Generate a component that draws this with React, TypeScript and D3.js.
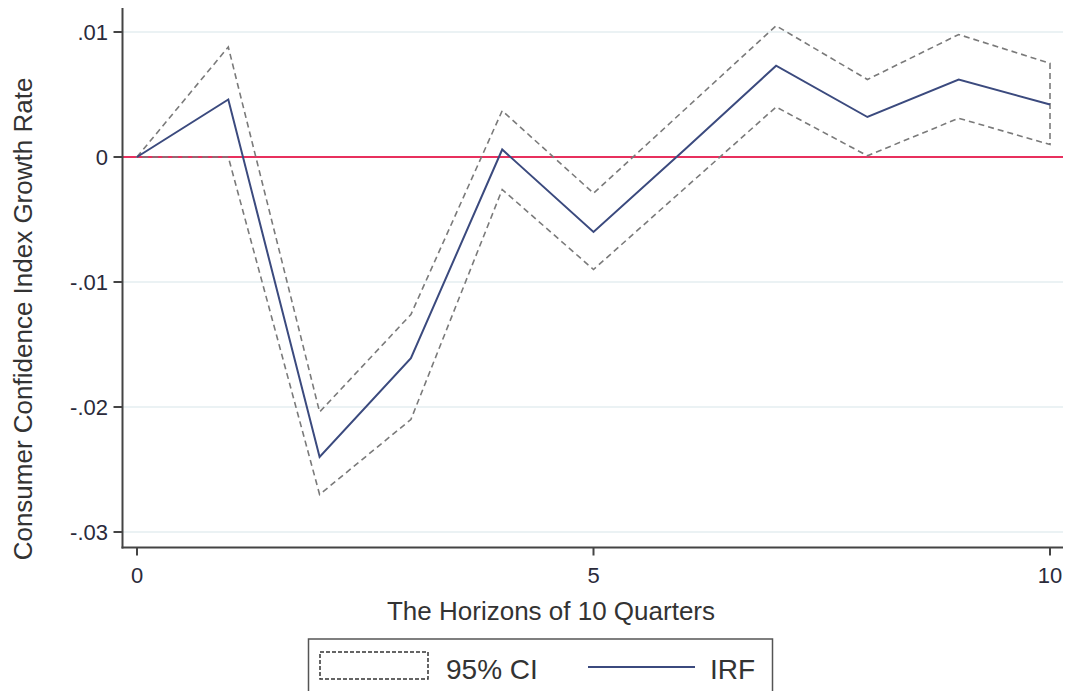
import React from "react";
import * as d3 from "d3";

const horizons = [0, 1, 2, 3, 4, 5, 6, 7, 8, 9, 10];
const irf = [0, 0.0046, -0.024, -0.0161, 0.0006, -0.006, 0.0006, 0.0073, 0.0032, 0.0062, 0.0042];
const upper = [0, 0.0088, -0.0204, -0.0126, 0.0037, -0.0029, 0.0038, 0.0105, 0.0062, 0.0098, 0.0075];
const lower = [0, 0, -0.027, -0.021, -0.0026, -0.009, -0.0025, 0.004, 0.0001, 0.0031, 0.001];
const yTicks = [0.01, 0, -0.01, -0.02, -0.03];
const yTickLabels = [".01", "0", "-.01", "-.02", "-.03"];
const xTicks = [0, 5, 10];
const xTickLabels = ["0", "5", "10"];
const legendLabels = ["95% CI", "IRF"];

const W = 1068;
const H = 691;
const FONT = "Arial, 'Liberation Sans', Helvetica, sans-serif";

export default function App() {
  const x = d3.scaleLinear().domain([0, 10]).range([137, 1050]);
  const y = d3.scaleLinear().domain([-0.03, 0.01]).range([532, 32]);
  const axisX = 122.5;
  const axisY = 547.5;
  const right = 1063;

  const line = d3
    .line<number>()
    .x((_, i) => x(horizons[i]))
    .y((d) => y(d));

  const ciPts: [number, number][] = [
    ...horizons.map((h, i) => [x(h), y(upper[i])] as [number, number]),
    ...horizons
      .slice()
      .reverse()
      .map((h) => [x(h), y(lower[h])] as [number, number]),
  ];
  const ciPath = "M" + ciPts.map((p) => p.join(",")).join("L") + "Z";

  return (
    <svg
      width={W}
      height={H}
      style={{ position: "absolute", left: 0, top: 0, background: "#fff" }}
      fontFamily={FONT}
    >
      <rect x={0} y={0} width={W} height={H} fill="#fff" />
      {yTicks.map((t) => (
        <line key={"g" + t} x1={axisX} x2={right} y1={y(t)} y2={y(t)} stroke="#e4eef1" strokeWidth={1.5} />
      ))}
      <line x1={axisX} x2={right} y1={y(0)} y2={y(0)} stroke="#e8305e" strokeWidth={2.2} />
      <path d={ciPath} fill="none" stroke="#7a7a7a" strokeWidth={1.6} strokeDasharray="6,4" strokeLinejoin="miter" />
      <path d={line(irf) || ""} fill="none" stroke="#3b4a7e" strokeWidth={2} />
      {/* axes */}
      <line x1={axisX} x2={axisX} y1={8} y2={axisY + 1} stroke="#444" strokeWidth={2} />
      <line x1={axisX - 1} x2={right} y1={axisY} y2={axisY} stroke="#444" strokeWidth={2} />
      {yTicks.map((t, i) => (
        <g key={"y" + t}>
          <line x1={axisX - 9} x2={axisX} y1={y(t)} y2={y(t)} stroke="#444" strokeWidth={2} />
          <text x={108} y={y(t)} dy="0.36em" textAnchor="end" fontSize={22} fill="#2a2a3a">
            {yTickLabels[i]}
          </text>
        </g>
      ))}
      {xTicks.map((t, i) => (
        <g key={"x" + t}>
          <line x1={x(t)} x2={x(t)} y1={axisY} y2={axisY + 8} stroke="#444" strokeWidth={2} />
          <text x={x(t)} y={583} textAnchor="middle" fontSize={22} fill="#2a2a3a">
            {xTickLabels[i]}
          </text>
        </g>
      ))}
      <text x={551} y={620} textAnchor="middle" fontSize={26} fill="#333">
        The Horizons of 10 Quarters
      </text>
      <text
        transform={`translate(32,319) rotate(-90)`}
        textAnchor="middle"
        fontSize={26}
        fill="#333"
      >
        Consumer Confidence Index Growth Rate
      </text>
      {/* legend */}
      <rect x={308.5} y={639} width={464} height={70} fill="#fff" stroke="#555" strokeWidth={1.5} />
      <rect x={320} y={652} width={108} height={27} fill="#fff" stroke="#333" strokeWidth={1.5} strokeDasharray="4,2" />
      <text x={446} y={679} fontSize={28} fill="#333">
        {legendLabels[0]}
      </text>
      <line x1={588} x2={695} y1={667} y2={667} stroke="#3b4a7e" strokeWidth={2} />
      <text x={710} y={679} fontSize={28} fill="#333">
        {legendLabels[1]}
      </text>
    </svg>
  );
}
